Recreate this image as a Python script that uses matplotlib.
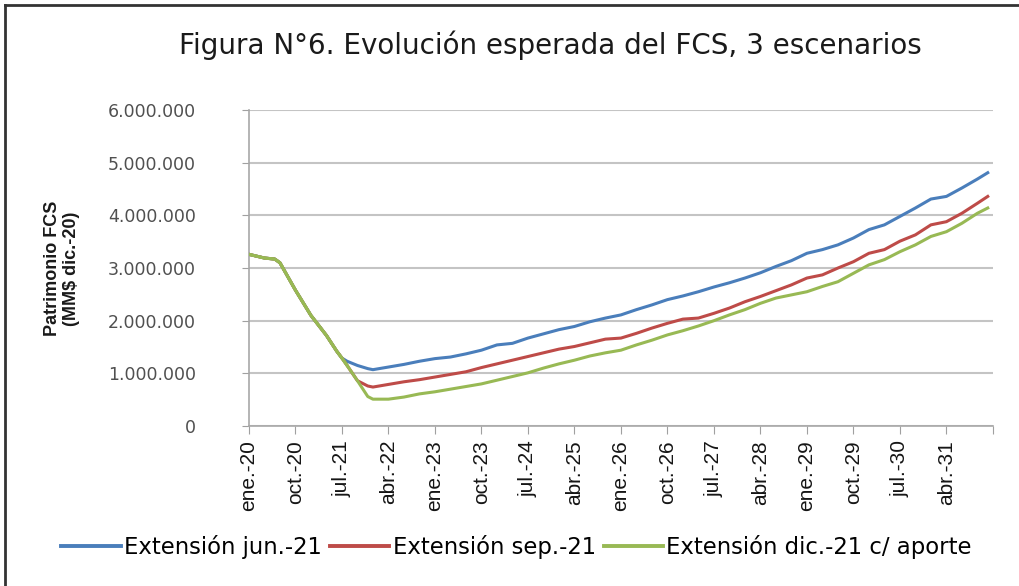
import numpy as np
import matplotlib
matplotlib.use("Agg")
import matplotlib.pyplot as plt
from matplotlib.ticker import FuncFormatter, MultipleLocator
from matplotlib.lines import Line2D

# meses desde ene.-20 (0 = ene.-20)
meses = [0, 3, 5, 6, 9, 12, 15, 17, 18, 19, 21, 23, 24, 27, 30, 33,
         36, 39, 42, 45, 48, 51, 54, 57, 60, 63, 66, 69, 72, 75, 78, 81,
         84, 87, 90, 93, 96, 99, 102, 105, 108, 111, 114, 117, 120, 123,
         126, 129, 132, 135, 138, 141, 143]

# patrimonio en millones de MM$
ext_jun21 = [3.26, 3.19, 3.17, 3.10, 2.58, 2.10, 1.72, 1.42, 1.29, 1.23, 1.15, 1.09, 1.07, 1.12, 1.17, 1.23,
             1.28, 1.31, 1.37, 1.44, 1.54, 1.57, 1.67, 1.75, 1.83, 1.89, 1.98, 2.05, 2.11, 2.21, 2.30, 2.40,
             2.47, 2.55, 2.64, 2.72, 2.81, 2.91, 3.03, 3.14, 3.28, 3.35, 3.44, 3.57, 3.73, 3.82,
             3.98, 4.14, 4.31, 4.36, 4.52, 4.69, 4.81]
ext_sep21 = [3.26, 3.19, 3.17, 3.10, 2.58, 2.10, 1.72, 1.42, 1.29, 1.15, 0.86, 0.76, 0.74, 0.79, 0.84, 0.88,
             0.93, 0.98, 1.03, 1.11, 1.18, 1.25, 1.32, 1.39, 1.46, 1.51, 1.58, 1.65, 1.67, 1.76, 1.86, 1.95,
             2.03, 2.05, 2.14, 2.24, 2.36, 2.46, 2.57, 2.68, 2.81, 2.87, 3.00, 3.12, 3.28, 3.35,
             3.51, 3.63, 3.82, 3.88, 4.04, 4.23, 4.36]
ext_dic21 = [3.26, 3.19, 3.17, 3.10, 2.58, 2.10, 1.72, 1.42, 1.29, 1.15, 0.86, 0.56, 0.51, 0.51, 0.55, 0.61,
             0.65, 0.70, 0.75, 0.80, 0.87, 0.94, 1.01, 1.10, 1.18, 1.25, 1.33, 1.39, 1.44, 1.54, 1.63, 1.73,
             1.81, 1.90, 2.00, 2.11, 2.21, 2.33, 2.43, 2.49, 2.55, 2.65, 2.74, 2.90, 3.06, 3.16,
             3.31, 3.44, 3.60, 3.69, 3.85, 4.04, 4.14]

etiquetas_x = ['ene.-20', 'oct.-20', 'jul.-21', 'abr.-22', 'ene.-23', 'oct.-23', 'jul.-24', 'abr.-25',
               'ene.-26', 'oct.-26', 'jul.-27', 'abr.-28', 'ene.-29', 'oct.-29', 'jul.-30', 'abr.-31']
nombres = ['Extensión jun.-21', 'Extensión sep.-21', 'Extensión dic.-21 c/ aporte']
colores = ['#4a7ebb', '#be4b48', '#98b954']


def miles(v, pos):
    return f"{int(round(v)):,}".replace(",", ".")


fig = plt.figure(figsize=(10.19, 5.86), dpi=100)
ax = fig.add_axes([0.2443, 0.2730, 0.7301, 0.5392])

for serie, color, nombre in zip([ext_jun21, ext_sep21, ext_dic21], colores, nombres):
    ax.plot(meses, np.array(serie) * 1e6, color=color, lw=2.2, label=nombre, zorder=3)
# la serie verde queda encima en el tramo comun
ax.plot(meses[:10], np.array(ext_dic21[:10]) * 1e6, color=colores[2], lw=2.2, zorder=4)

ax.set_xlim(0, 144)
ax.set_ylim(0, 6e6)
ax.yaxis.set_major_locator(MultipleLocator(1e6))
ax.yaxis.set_major_formatter(FuncFormatter(miles))
ax.set_xticks(np.arange(0, 145, 9))
ax.set_xticklabels(etiquetas_x + [''], rotation=90, fontsize=15,
                   family='Liberation Sans', color='#151515')
ax.tick_params(axis='x', length=6, color='#a0a0a0', pad=4)
ax.tick_params(axis='y', length=5, color='#a0a0a0', labelsize=12.5,
               labelcolor='#505050', pad=33)
ax.grid(axis='y', color='#c4c4c4', lw=1.5)
ax.set_axisbelow(True)
for s in ['top', 'right']:
    ax.spines[s].set_visible(False)
for s in ['left', 'bottom']:
    ax.spines[s].set_color('#a8a8a8')
    ax.spines[s].set_linewidth(1.2)

fig.text(0.540, 0.922, 'Figura N°6. Evolución esperada del FCS, 3 escenarios',
         ha='center', va='center', fontsize=20, color='#1a1a1a')
fig.text(0.061, 0.542, 'Patrimonio FCS\n(MM$ dic.-20)', rotation=90,
         ha='center', va='center', fontsize=13, fontweight='bold',
         family='Liberation Sans', color='#1a1a1a', linespacing=1.15)

handles = [Line2D([], [], color=c, lw=2.8) for c in colores]
fig.legend(handles, nombres, loc='center', bbox_to_anchor=(0.507, 0.066), ncol=3,
           frameon=False, handlelength=2.6, handletextpad=0.15, columnspacing=0.35,
           prop={'family': 'DejaVu Sans', 'size': 16.4})

# marco de la figura
fig.add_artist(Line2D([0.005, 0.005], [0.0, 0.991], color='#333333', lw=2, transform=fig.transFigure))
fig.add_artist(Line2D([0.005, 1.0], [0.991, 0.991], color='#333333', lw=2, transform=fig.transFigure))

fig.savefig('out.png', dpi=100)
